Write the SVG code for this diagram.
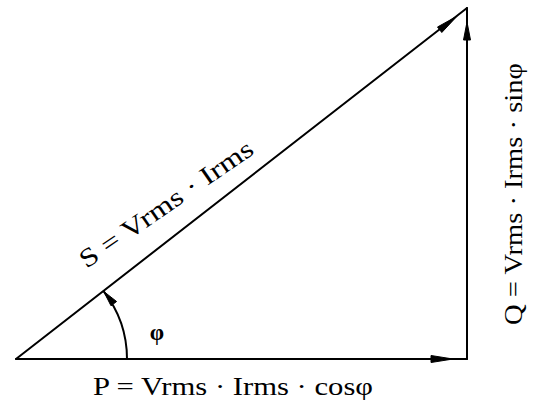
<svg xmlns="http://www.w3.org/2000/svg" width="533" height="406" viewBox="0 0 533 406">
<style>
.ln{stroke:#000;stroke-width:2;fill:none;stroke-linecap:round}
.head{fill:#000;stroke:#000;stroke-width:1}
.lbl{font-family:"Liberation Serif","Times New Roman",serif;fill:#000}
</style>
<rect width="533" height="406" fill="#fff"/>
<g id="connectors">
<line class="ln" x1="16" y1="359" x2="467" y2="359"/>
<line class="ln" x1="467" y1="359" x2="467" y2="8"/>
<line class="ln" x1="16" y1="359" x2="467" y2="8"/>
<path class="ln" d="M127 359 A110 110 0 0 0 103.7 291.4"/>
<polygon class="head" points="453,359 431,355.5 431,362.5"/>
<polygon class="head" points="457,16.2 441.8,32.5 437.5,27"/>
<polygon class="head" points="467,22 463.5,40 470.5,40"/>
<polygon class="head" points="103.7,291.4 116.6,301.5 111,305.8"/>
</g>
<g id="label-P"><text class="lbl" x="93" y="395" font-size="26" textLength="280" lengthAdjust="spacingAndGlyphs">P = Vrms · Irms · cosφ</text></g>
<g id="label-S"><text class="lbl" x="171" y="211" font-size="26" text-anchor="middle" textLength="205" lengthAdjust="spacingAndGlyphs" transform="rotate(-34.5 171 211)">S = Vrms · Irms</text></g>
<g id="label-Q"><text class="lbl" x="522" y="194" font-size="26" text-anchor="middle" textLength="262" lengthAdjust="spacingAndGlyphs" transform="rotate(-90 522 194)">Q = Vrms · Irms · sinφ</text></g>
<g id="label-phi"><text class="lbl" x="157" y="340" font-size="23" font-weight="bold" text-anchor="middle">φ</text></g>
</svg>
